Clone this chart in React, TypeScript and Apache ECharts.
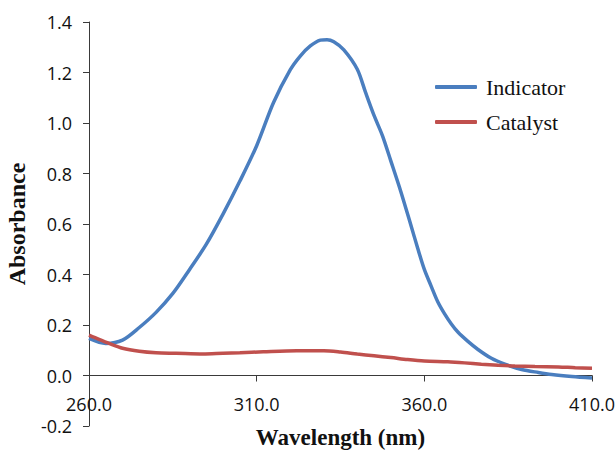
import React, { useEffect, useRef } from "react";
import * as echarts from "echarts";

const indicatorWavelengths = [
  260, 265, 270, 275, 280, 285, 290, 295, 300, 305, 310, 315, 320, 323, 326,
  329, 331, 333, 336, 340, 342.5, 345, 347.5, 350, 353, 356, 358, 360, 362,
  364, 366, 368, 370, 373, 376, 380, 384, 389, 394, 398, 404, 410,
];
const indicatorValues = [
  0.147, 0.127, 0.14, 0.19, 0.25, 0.325, 0.42, 0.52, 0.64, 0.77, 0.91, 1.08,
  1.21, 1.265, 1.305, 1.328, 1.33, 1.322, 1.29, 1.213, 1.12, 1.03, 0.95, 0.85,
  0.728, 0.595, 0.505, 0.42, 0.355, 0.292, 0.245, 0.205, 0.172, 0.135, 0.103,
  0.068, 0.045, 0.024, 0.012, 0.004, -0.004, -0.01,
];

const catalystWavelengths = [
  260, 263, 266, 270, 275, 280, 286, 294, 300, 305, 312, 322, 330, 335, 340,
  345, 350, 355, 360, 367, 372, 377, 382, 387, 393, 400, 405, 410,
];
const catalystValues = [
  0.16, 0.143, 0.127, 0.108, 0.096, 0.09, 0.088, 0.085, 0.088, 0.09, 0.094,
  0.098, 0.098, 0.093, 0.085, 0.078, 0.071, 0.063, 0.057, 0.054, 0.05, 0.045,
  0.041, 0.038, 0.036, 0.034, 0.031, 0.029,
];

const seriesNames = ["Indicator", "Catalyst"];
const xTitle = "Wavelength (nm)";
const yTitle = "Absorbance";

export default function App() {
  const ref = useRef<HTMLDivElement>(null);
  useEffect(() => {
    if (!ref.current) return;
    const chart = echarts.init(ref.current, null, { renderer: "svg" });
    const axisColor = "#3a3a3a";
    const labelFont = "'Open Sans', 'Noto Sans', sans-serif";
    const serif = "'Liberation Serif', 'DejaVu Serif', serif";
    chart.setOption({
      animation: false,
      backgroundColor: "#ffffff",
      grid: {
        left: 89,
        right: 24,
        top: 22,
        bottom: 26,
        containLabel: false,
        outerBoundsMode: "none",
      },
      legend: {
        orient: "vertical",
        left: 430,
        top: 71,
        itemWidth: 42,
        itemHeight: 4,
        itemGap: 13,
        icon: "roundRect",
        textStyle: {
          fontFamily: serif,
          fontSize: 22,
          color: "#111",
          padding: [0, 0, 0, 4],
        },
        data: seriesNames,
      },
      xAxis: {
        type: "value",
        min: 260,
        max: 410,
        interval: 50,
        name: xTitle,
        nameLocation: "middle",
        nameGap: 0,
        nameTextStyle: {
          fontFamily: serif,
          fontSize: 23,
          fontWeight: "bold",
          color: "#111",
          verticalAlign: "top",
        },
        axisLine: { onZero: true, lineStyle: { color: axisColor, width: 1 } },
        axisTick: { show: true, inside: false, length: 6, lineStyle: { color: axisColor } },
        axisLabel: {
          margin: -31,
          fontFamily: labelFont,
          fontSize: 18,
          color: "#111",
          formatter: (v: number) => v.toFixed(1),
        },
        splitLine: { show: false },
      },
      yAxis: {
        type: "value",
        min: -0.2,
        max: 1.4,
        interval: 0.2,
        name: yTitle,
        nameLocation: "middle",
        nameGap: 60,
        nameTextStyle: {
          fontFamily: serif,
          fontSize: 24,
          fontWeight: "bold",
          color: "#111",
        },
        axisLine: { show: true, lineStyle: { color: axisColor, width: 1 } },
        axisTick: { show: true, inside: false, length: 6, lineStyle: { color: axisColor } },
        axisLabel: {
          margin: 17,
          fontFamily: labelFont,
          fontSize: 18,
          color: "#111",
          formatter: (v: number) => (Math.abs(v) < 1e-9 ? 0 : v).toFixed(1),
        },
        splitLine: { show: false },
      },
      series: [
        {
          name: seriesNames[0],
          type: "line",
          smooth: 0.3,
          showSymbol: false,
          lineStyle: { color: "#4a7ebf", width: 3.5 },
          itemStyle: { color: "#4a7ebf" },
          data: indicatorWavelengths.map((w, i) => [w, indicatorValues[i]]),
          z: 2,
        },
        {
          name: seriesNames[1],
          type: "line",
          smooth: 0.3,
          showSymbol: false,
          lineStyle: { color: "#c0504d", width: 3.5 },
          itemStyle: { color: "#c0504d" },
          data: catalystWavelengths.map((w, i) => [w, catalystValues[i]]),
          z: 3,
        },
      ],
    });
    return () => chart.dispose();
  }, []);
  return (
    <div
      ref={ref}
      style={{ position: "absolute", left: 0, top: 0, width: 616, height: 452 }}
    />
  );
}
